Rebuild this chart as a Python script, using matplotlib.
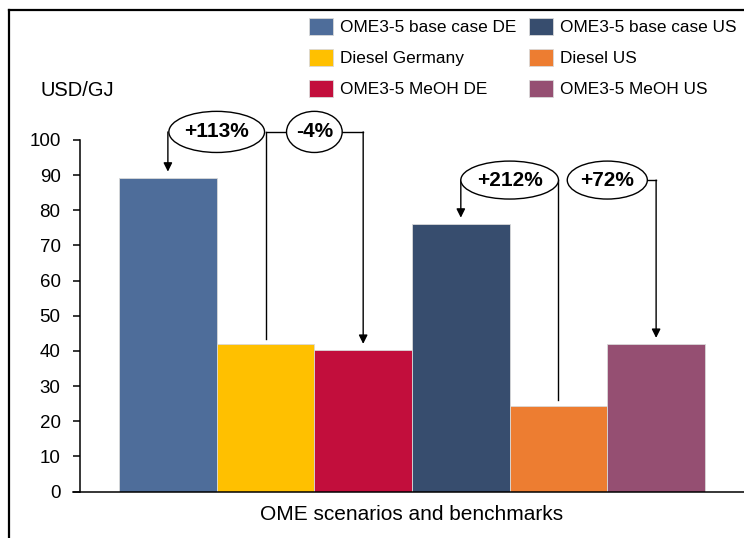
import matplotlib.pyplot as plt
from matplotlib.patches import Ellipse, Patch
from matplotlib.lines import Line2D

plt.rcParams['font.family'] = ['Liberation Sans', 'DejaVu Sans']

scenarios = ['OME3-5 base case DE', 'Diesel Germany', 'OME3-5 MeOH DE',
             'OME3-5 base case US', 'Diesel US', 'OME3-5 MeOH US']
costs = [89.2, 41.9, 40.2, 76.1, 24.4, 41.9]
colors = ['#4E6D9A', '#FFC000', '#C20E3C', '#374D6E', '#ED7D31', '#954F72']

# percentage labels: (label, ellipse centre x, ellipse width, centre y)
pct_labels = ['+113%', '-4%', '+212%', '+72%']
pct_x = [0.5, 1.5, 3.5, 4.5]
pct_w = [0.98, 0.57, 1.0, 0.82]
pct_y = [102.3, 102.3, 88.6, 88.6]
pct_h = [11.7, 11.7, 10.8, 10.8]

fig = plt.figure(figsize=(7.44, 5.38), dpi=100)
ax = fig.add_axes([80 / 744, 1 - 491.5 / 538, 664 / 744, 351.5 / 538])

x = list(range(len(costs)))
ax.bar(x, costs, width=1.0, color=colors, edgecolor='#d9d9d9', linewidth=0.6, zorder=2)

ax.set_xlim(-0.9, 5.9)
ax.set_ylim(0, 100)
ax.set_yticks(range(0, 101, 10))
ax.set_xticks([])
ax.tick_params(axis='y', labelsize=13.5, length=5, width=1.1, pad=9, direction='out')
for side in ['top', 'right']:
    ax.spines[side].set_visible(False)
ax.spines['left'].set_linewidth(1.1)
ax.spines['bottom'].set_linewidth(1.1)
ax.spines['bottom'].set_bounds(-0.9 - 7 / 97.65, 5.9)

ax.set_xlabel('OME scenarios and benchmarks', fontsize=15, labelpad=10)
fig.text(40 / 744, 1 - 90 / 538, 'USD/GJ', fontsize=14.5, va='center', ha='left')

# ellipses with the percentage changes
for label, cx, w, cy, h in zip(pct_labels, pct_x, pct_w, pct_y, pct_h):
    ax.add_patch(Ellipse((cx, cy), w, h, facecolor='white', edgecolor='black',
                         lw=1.0, clip_on=False, zorder=5))
    ax.text(cx, cy, label, ha='center', va='center', fontsize=15,
            fontweight='bold', zorder=6, clip_on=False)

line_kw = dict(color='black', lw=1.0, clip_on=False, zorder=4)
arrow_kw = dict(arrowstyle='-|>', mutation_scale=13, lw=1.0, color='black',
                shrinkA=0, shrinkB=0)


def arrow_down(ax, xb, y_from):
    ax.annotate('', xy=(xb, costs[xb] + 1.8), xytext=(xb, y_from),
                arrowprops=arrow_kw, annotation_clip=False, zorder=4)


# Germany: diesel vs base case and MeOH
y1 = pct_y[0]
ax.plot([1, 1], [y1, costs[1] + 1.5], **line_kw)
arrow_down(ax, 0, y1)
ax.plot([1, pct_x[1] - pct_w[1] / 2], [y1, y1], **line_kw)
ax.plot([pct_x[1] + pct_w[1] / 2, 2], [y1, y1], **line_kw)
arrow_down(ax, 2, y1)

# US: diesel vs base case and MeOH
y2 = pct_y[2]
ax.plot([4, 4], [y2, costs[4] + 1.5], **line_kw)
arrow_down(ax, 3, y2)
ax.plot([pct_x[3] + pct_w[3] / 2, 5], [y2, y2], **line_kw)
arrow_down(ax, 5, y2)

handles = [Patch(facecolor=c, edgecolor='#d9d9d9', lw=0.6) for c in colors]
fig.legend(handles, scenarios, loc='upper left', bbox_to_anchor=(297 / 744, 1 - 6 / 538),
           ncol=2, frameon=False, fontsize=12.4, handlelength=1.4, handleheight=1.15,
           handletextpad=0.4, columnspacing=0.75, labelspacing=0.78, borderpad=0.2)

# outer frame on the left and top
fig.add_artist(Line2D([9 / 744, 9 / 744], [0, 1 - 10 / 538], color='black', lw=1.6,
                      transform=fig.transFigure))
fig.add_artist(Line2D([9 / 744, 1], [1 - 10 / 538, 1 - 10 / 538], color='black', lw=1.6,
                      transform=fig.transFigure))

fig.savefig('out.png', dpi=100)
